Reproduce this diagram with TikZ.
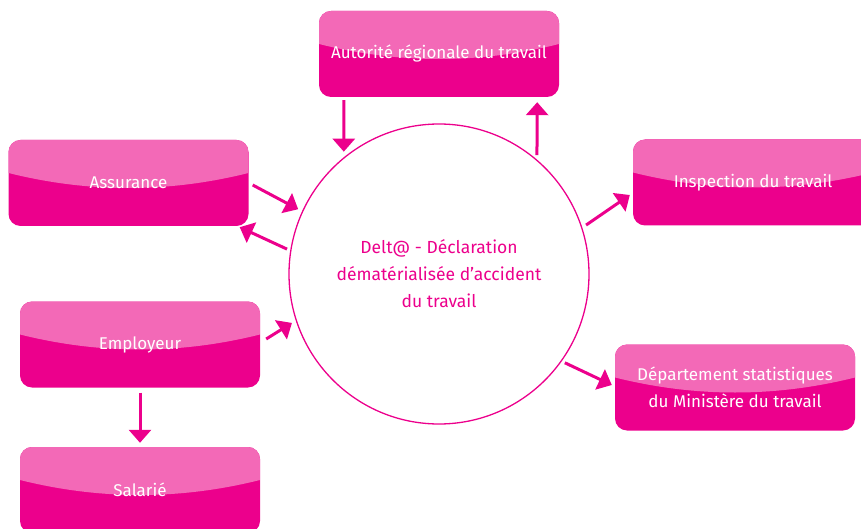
\documentclass[tikz,border=0pt]{standalone}
\usepackage{fontspec}
\setmainfont{Fira Sans}
\usetikzlibrary{arrows.meta,calc}
\definecolor{magdark}{RGB}{236,0,140}
\definecolor{maglight}{RGB}{243,105,183}
\tikzset{
  glossbox/.style={rectangle, rounded corners=12pt, fill=magdark,
    minimum width=240pt, minimum height=86pt, inner sep=0pt,
    text=white, font=\fontsize{17}{27}\selectfont, align=center,
    path picture={
      \path (path picture bounding box.north west) coordinate (pNW)
            (path picture bounding box.south east) coordinate (pSE);
      \fill[maglight, sharp corners] let \p1=(pNW), \p2=(pSE) in
        (\x1,\y1) -- (\x1,\y1-33pt)
        .. controls ({\x1*2/3+\x2/3},\y1-53pt) and ({\x1/3+\x2*2/3},\y1-53pt) .. (\x2,\y1-33pt)
        -- (\x2,\y1) -- cycle;
    }},
  hub/.style={circle, draw=magdark, line width=1.3pt, minimum size=300pt,
    inner sep=0pt, text=magdark, font=\fontsize{17.5}{27}\selectfont, align=center},
  flow/.style={draw=magdark, line width=3pt,
    -{Triangle[width=22pt,length=13pt]}, color=magdark}
}
\begin{document}
\begin{tikzpicture}[x=1pt,y=-1pt]
\useasboundingbox (0,0) rectangle (861,529);
\clip (0,0) rectangle (861,529);
\node[hub] (circ) at (439,274) {Delt@ - Déclaration\\dématérialisée d’accident\\du travail};
\node[glossbox] (aut) at (439,54) {Autorité régionale du travail};
\node[glossbox] (ass) at (128.5,183) {Assurance};
\node[glossbox] (insp) at (753,182.5) {Inspection du travail};
\node[glossbox] (emp) at (140,344.5) {Employeur};
\node[glossbox] (sal) at (140,490) {Salarié};
\node[glossbox] (dep) at (735,387.5) {Département statistiques\\du Ministère du travail};
% free ends
\coordinate (c1) at ($(circ.center)+(127.9:155pt)$);
\coordinate (c2) at ($(circ.center)+(50.5:154pt)$);
\coordinate (c3) at ($(circ.center)+(155.3:155pt)$);
\coordinate (c4) at ($(circ.center)+(170.7:154pt)$);
\coordinate (c5) at ($(circ.center)+(198.4:155pt)$);
\coordinate (c6) at ($(circ.center)+(18.4:155pt)$);
\coordinate (c7) at ($(circ.center)+(-35.2:154pt)$);
\coordinate (b1) at ($(aut.south west)+(25,3)$);
\coordinate (b2) at ($(aut.south east)+(-22,5)$);
\coordinate (b3) at ($(ass.east)+(4,2)$);
\coordinate (b4) at ($(ass.south east)+(-9,1)$);
\coordinate (b5) at ($(emp.east)+(6,-5.5)$);
\coordinate (b6) at ($(insp.west)+(-3,12.5)$);
\coordinate (b7) at ($(dep.west)+(-3,-2.5)$);
\coordinate (b8) at ($(emp.south)+(0,5)$);
\coordinate (b9) at ($(sal.north)+(0,-4)$);
\draw[flow] (b1) -- (c1);
\draw[flow] (c2) -- (b2);
\draw[flow] (b3) -- (c3);
\draw[flow] (c4) -- (b4);
\draw[flow] (b5) -- (c5);
\draw[flow] (c6) -- (b6);
\draw[flow] (c7) -- (b7);
\draw[flow] (b8) -- (b9);
\end{tikzpicture}
\end{document}
